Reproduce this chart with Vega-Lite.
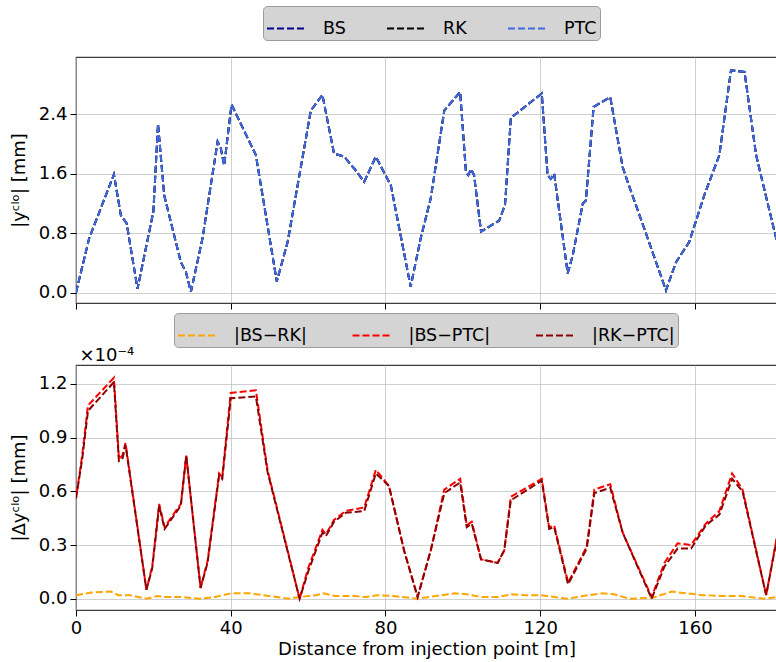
{
  "$schema": "https://vega.github.io/schema/vega-lite/v6.json",
  "padding": {"left": 9, "top": 4, "right": 0, "bottom": 0},
  "background": "white",
  "config": {
    "font": "DejaVu Sans",
    "view": {"stroke": "#3c3c3c", "strokeWidth": 1.2},
    "axis": {
      "labelFontSize": 18, "titleFontSize": 18, "titleFontWeight": "normal",
      "labelColor": "#000000", "titleColor": "#000000", "tickColor": "#000000",
      "tickSize": 6, "tickWidth": 1, "domain": false, "labelPadding": 3, "titlePadding": 10,
      "gridColor": "#b0b0b0", "gridOpacity": 0.6, "gridWidth": 1, "labelFlush": false
    },
    "legend": {
      "orient": "none", "direction": "horizontal", "columns": 3,
      "symbolType": "stroke", "symbolSize": 1369, "symbolStrokeWidth": 2, "symbolDash": [7, 3],
      "labelFontSize": 17.5, "labelOffset": 18, "columnPadding": 40, "padding": 3,
      "fillColor": "#d4d4d4", "strokeColor": "#9c9c9c", "cornerRadius": 4,
      "labelColor": "#000000", "title": null
    }
  },
  "datasets": {
    "top": [
      {"s": 0, "BS": 0.0, "RK": 0.0, "PTC": 0.0},
      {"s": 3.4, "BS": 0.73, "RK": 0.73, "PTC": 0.73},
      {"s": 9.8, "BS": 1.59, "RK": 1.59, "PTC": 1.59},
      {"s": 11.6, "BS": 1.04, "RK": 1.04, "PTC": 1.04},
      {"s": 13.1, "BS": 0.93, "RK": 0.93, "PTC": 0.93},
      {"s": 15.9, "BS": 0.05, "RK": 0.05, "PTC": 0.05},
      {"s": 20.0, "BS": 1.09, "RK": 1.09, "PTC": 1.09},
      {"s": 21.2, "BS": 2.27, "RK": 2.27, "PTC": 2.27},
      {"s": 22.8, "BS": 1.31, "RK": 1.31, "PTC": 1.31},
      {"s": 27.1, "BS": 0.41, "RK": 0.41, "PTC": 0.41},
      {"s": 28.4, "BS": 0.28, "RK": 0.28, "PTC": 0.28},
      {"s": 29.7, "BS": 0.01, "RK": 0.01, "PTC": 0.01},
      {"s": 32.7, "BS": 0.73, "RK": 0.73, "PTC": 0.73},
      {"s": 36.6, "BS": 2.03, "RK": 2.03, "PTC": 2.03},
      {"s": 37.4, "BS": 1.95, "RK": 1.95, "PTC": 1.95},
      {"s": 38.3, "BS": 1.71, "RK": 1.71, "PTC": 1.71},
      {"s": 40.2, "BS": 2.53, "RK": 2.53, "PTC": 2.53},
      {"s": 46.5, "BS": 1.85, "RK": 1.85, "PTC": 1.85},
      {"s": 51.9, "BS": 0.15, "RK": 0.15, "PTC": 0.15},
      {"s": 54.7, "BS": 0.68, "RK": 0.68, "PTC": 0.68},
      {"s": 60.7, "BS": 2.45, "RK": 2.45, "PTC": 2.45},
      {"s": 63.7, "BS": 2.66, "RK": 2.66, "PTC": 2.66},
      {"s": 66.7, "BS": 1.87, "RK": 1.87, "PTC": 1.87},
      {"s": 69.3, "BS": 1.83, "RK": 1.83, "PTC": 1.83},
      {"s": 71.9, "BS": 1.67, "RK": 1.67, "PTC": 1.67},
      {"s": 74.5, "BS": 1.49, "RK": 1.49, "PTC": 1.49},
      {"s": 77.5, "BS": 1.83, "RK": 1.83, "PTC": 1.83},
      {"s": 81.4, "BS": 1.44, "RK": 1.44, "PTC": 1.44},
      {"s": 86.5, "BS": 0.08, "RK": 0.08, "PTC": 0.08},
      {"s": 89.1, "BS": 0.73, "RK": 0.73, "PTC": 0.73},
      {"s": 91.7, "BS": 1.27, "RK": 1.27, "PTC": 1.27},
      {"s": 95.2, "BS": 2.45, "RK": 2.45, "PTC": 2.45},
      {"s": 99.3, "BS": 2.7, "RK": 2.7, "PTC": 2.7},
      {"s": 100.8, "BS": 1.62, "RK": 1.62, "PTC": 1.62},
      {"s": 101.4, "BS": 1.58, "RK": 1.58, "PTC": 1.58},
      {"s": 102.1, "BS": 1.66, "RK": 1.66, "PTC": 1.66},
      {"s": 102.9, "BS": 1.58, "RK": 1.58, "PTC": 1.58},
      {"s": 104.7, "BS": 0.82, "RK": 0.82, "PTC": 0.82},
      {"s": 109.4, "BS": 0.97, "RK": 0.97, "PTC": 0.97},
      {"s": 110.9, "BS": 1.18, "RK": 1.18, "PTC": 1.18},
      {"s": 112.4, "BS": 2.35, "RK": 2.35, "PTC": 2.35},
      {"s": 120.4, "BS": 2.68, "RK": 2.68, "PTC": 2.68},
      {"s": 121.9, "BS": 1.58, "RK": 1.58, "PTC": 1.58},
      {"s": 122.7, "BS": 1.53, "RK": 1.53, "PTC": 1.53},
      {"s": 123.6, "BS": 1.6, "RK": 1.6, "PTC": 1.6},
      {"s": 127.1, "BS": 0.26, "RK": 0.26, "PTC": 0.26},
      {"s": 128.4, "BS": 0.5, "RK": 0.5, "PTC": 0.5},
      {"s": 131.0, "BS": 1.2, "RK": 1.2, "PTC": 1.2},
      {"s": 131.8, "BS": 1.24, "RK": 1.24, "PTC": 1.24},
      {"s": 133.8, "BS": 2.5, "RK": 2.5, "PTC": 2.5},
      {"s": 138.1, "BS": 2.63, "RK": 2.63, "PTC": 2.63},
      {"s": 141.3, "BS": 1.69, "RK": 1.69, "PTC": 1.69},
      {"s": 142.6, "BS": 1.49, "RK": 1.49, "PTC": 1.49},
      {"s": 146.9, "BS": 0.86, "RK": 0.86, "PTC": 0.86},
      {"s": 152.5, "BS": 0.03, "RK": 0.03, "PTC": 0.03},
      {"s": 155.1, "BS": 0.41, "RK": 0.41, "PTC": 0.41},
      {"s": 158.5, "BS": 0.68, "RK": 0.68, "PTC": 0.68},
      {"s": 162.4, "BS": 1.31, "RK": 1.31, "PTC": 1.31},
      {"s": 166.3, "BS": 1.85, "RK": 1.85, "PTC": 1.85},
      {"s": 169.3, "BS": 2.99, "RK": 2.99, "PTC": 2.99},
      {"s": 172.8, "BS": 2.97, "RK": 2.97, "PTC": 2.97},
      {"s": 175.8, "BS": 1.85, "RK": 1.85, "PTC": 1.85},
      {"s": 181.3, "BS": 0.66, "RK": 0.66, "PTC": 0.66}
    ],
    "bottom": [
      {"s": 0, "v": 0.02, "series": "|BS−RK|"},
      {"s": 4, "v": 0.035, "series": "|BS−RK|"},
      {"s": 9, "v": 0.04, "series": "|BS−RK|"},
      {"s": 11, "v": 0.02, "series": "|BS−RK|"},
      {"s": 14, "v": 0.02, "series": "|BS−RK|"},
      {"s": 18.2, "v": 0.0, "series": "|BS−RK|"},
      {"s": 21, "v": 0.015, "series": "|BS−RK|"},
      {"s": 23, "v": 0.01, "series": "|BS−RK|"},
      {"s": 27, "v": 0.01, "series": "|BS−RK|"},
      {"s": 32, "v": 0.0, "series": "|BS−RK|"},
      {"s": 36, "v": 0.01, "series": "|BS−RK|"},
      {"s": 40, "v": 0.03, "series": "|BS−RK|"},
      {"s": 45, "v": 0.03, "series": "|BS−RK|"},
      {"s": 50, "v": 0.015, "series": "|BS−RK|"},
      {"s": 55, "v": 0.0, "series": "|BS−RK|"},
      {"s": 58, "v": 0.01, "series": "|BS−RK|"},
      {"s": 62, "v": 0.02, "series": "|BS−RK|"},
      {"s": 64, "v": 0.03, "series": "|BS−RK|"},
      {"s": 67, "v": 0.015, "series": "|BS−RK|"},
      {"s": 72, "v": 0.015, "series": "|BS−RK|"},
      {"s": 75, "v": 0.01, "series": "|BS−RK|"},
      {"s": 78, "v": 0.02, "series": "|BS−RK|"},
      {"s": 82, "v": 0.015, "series": "|BS−RK|"},
      {"s": 88.3, "v": 0.0, "series": "|BS−RK|"},
      {"s": 93, "v": 0.015, "series": "|BS−RK|"},
      {"s": 98, "v": 0.03, "series": "|BS−RK|"},
      {"s": 101, "v": 0.025, "series": "|BS−RK|"},
      {"s": 104.7, "v": 0.01, "series": "|BS−RK|"},
      {"s": 109, "v": 0.01, "series": "|BS−RK|"},
      {"s": 113, "v": 0.025, "series": "|BS−RK|"},
      {"s": 116, "v": 0.02, "series": "|BS−RK|"},
      {"s": 120, "v": 0.02, "series": "|BS−RK|"},
      {"s": 127, "v": 0.0, "series": "|BS−RK|"},
      {"s": 131, "v": 0.015, "series": "|BS−RK|"},
      {"s": 136, "v": 0.03, "series": "|BS−RK|"},
      {"s": 139, "v": 0.025, "series": "|BS−RK|"},
      {"s": 143, "v": 0.0, "series": "|BS−RK|"},
      {"s": 149, "v": 0.005, "series": "|BS−RK|"},
      {"s": 154, "v": 0.04, "series": "|BS−RK|"},
      {"s": 158, "v": 0.03, "series": "|BS−RK|"},
      {"s": 162, "v": 0.02, "series": "|BS−RK|"},
      {"s": 168, "v": 0.015, "series": "|BS−RK|"},
      {"s": 172, "v": 0.015, "series": "|BS−RK|"},
      {"s": 178, "v": 0.0, "series": "|BS−RK|"},
      {"s": 181.3, "v": 0.01, "series": "|BS−RK|"},

      {"s": 0, "v": 0.56, "series": "|BS−PTC|"},
      {"s": 1.6, "v": 0.8, "series": "|BS−PTC|"},
      {"s": 3.1, "v": 1.08, "series": "|BS−PTC|"},
      {"s": 9.8, "v": 1.235, "series": "|BS−PTC|"},
      {"s": 11.1, "v": 0.78, "series": "|BS−PTC|"},
      {"s": 12.0, "v": 0.8, "series": "|BS−PTC|"},
      {"s": 12.8, "v": 0.87, "series": "|BS−PTC|"},
      {"s": 18.2, "v": 0.05, "series": "|BS−PTC|"},
      {"s": 19.7, "v": 0.18, "series": "|BS−PTC|"},
      {"s": 21.5, "v": 0.53, "series": "|BS−PTC|"},
      {"s": 22.9, "v": 0.4, "series": "|BS−PTC|"},
      {"s": 27.1, "v": 0.53, "series": "|BS−PTC|"},
      {"s": 28.5, "v": 0.8, "series": "|BS−PTC|"},
      {"s": 32.2, "v": 0.06, "series": "|BS−PTC|"},
      {"s": 34.0, "v": 0.21, "series": "|BS−PTC|"},
      {"s": 37.0, "v": 0.7, "series": "|BS−PTC|"},
      {"s": 37.8, "v": 0.68, "series": "|BS−PTC|"},
      {"s": 40.0, "v": 1.15, "series": "|BS−PTC|"},
      {"s": 46.5, "v": 1.165, "series": "|BS−PTC|"},
      {"s": 49.5, "v": 0.72, "series": "|BS−PTC|"},
      {"s": 57.8, "v": 0.0, "series": "|BS−PTC|"},
      {"s": 60.0, "v": 0.17, "series": "|BS−PTC|"},
      {"s": 63.7, "v": 0.385, "series": "|BS−PTC|"},
      {"s": 64.6, "v": 0.36, "series": "|BS−PTC|"},
      {"s": 66.7, "v": 0.44, "series": "|BS−PTC|"},
      {"s": 69.7, "v": 0.49, "series": "|BS−PTC|"},
      {"s": 74.5, "v": 0.51, "series": "|BS−PTC|"},
      {"s": 77.5, "v": 0.72, "series": "|BS−PTC|"},
      {"s": 80.9, "v": 0.63, "series": "|BS−PTC|"},
      {"s": 84.8, "v": 0.27, "series": "|BS−PTC|"},
      {"s": 88.3, "v": 0.01, "series": "|BS−PTC|"},
      {"s": 91.7, "v": 0.27, "series": "|BS−PTC|"},
      {"s": 95.2, "v": 0.61, "series": "|BS−PTC|"},
      {"s": 99.3, "v": 0.67, "series": "|BS−PTC|"},
      {"s": 101.0, "v": 0.41, "series": "|BS−PTC|"},
      {"s": 102.3, "v": 0.43, "series": "|BS−PTC|"},
      {"s": 104.7, "v": 0.22, "series": "|BS−PTC|"},
      {"s": 109.0, "v": 0.2, "series": "|BS−PTC|"},
      {"s": 110.7, "v": 0.27, "series": "|BS−PTC|"},
      {"s": 112.4, "v": 0.57, "series": "|BS−PTC|"},
      {"s": 120.4, "v": 0.67, "series": "|BS−PTC|"},
      {"s": 122.3, "v": 0.4, "series": "|BS−PTC|"},
      {"s": 123.6, "v": 0.41, "series": "|BS−PTC|"},
      {"s": 127.2, "v": 0.09, "series": "|BS−PTC|"},
      {"s": 132.0, "v": 0.29, "series": "|BS−PTC|"},
      {"s": 134.0, "v": 0.61, "series": "|BS−PTC|"},
      {"s": 138.1, "v": 0.64, "series": "|BS−PTC|"},
      {"s": 141.3, "v": 0.37, "series": "|BS−PTC|"},
      {"s": 148.8, "v": 0.01, "series": "|BS−PTC|"},
      {"s": 152.1, "v": 0.2, "series": "|BS−PTC|"},
      {"s": 155.5, "v": 0.31, "series": "|BS−PTC|"},
      {"s": 159.0, "v": 0.3, "series": "|BS−PTC|"},
      {"s": 162.8, "v": 0.42, "series": "|BS−PTC|"},
      {"s": 166.3, "v": 0.49, "series": "|BS−PTC|"},
      {"s": 169.6, "v": 0.7, "series": "|BS−PTC|"},
      {"s": 172.3, "v": 0.61, "series": "|BS−PTC|"},
      {"s": 178.4, "v": 0.02, "series": "|BS−PTC|"},
      {"s": 181.3, "v": 0.36, "series": "|BS−PTC|"},

      {"s": 0, "v": 0.56, "series": "|RK−PTC|"},
      {"s": 1.6, "v": 0.78, "series": "|RK−PTC|"},
      {"s": 3.1, "v": 1.05, "series": "|RK−PTC|"},
      {"s": 9.8, "v": 1.21, "series": "|RK−PTC|"},
      {"s": 11.1, "v": 0.77, "series": "|RK−PTC|"},
      {"s": 12.0, "v": 0.78, "series": "|RK−PTC|"},
      {"s": 12.8, "v": 0.86, "series": "|RK−PTC|"},
      {"s": 18.2, "v": 0.05, "series": "|RK−PTC|"},
      {"s": 19.7, "v": 0.17, "series": "|RK−PTC|"},
      {"s": 21.5, "v": 0.52, "series": "|RK−PTC|"},
      {"s": 22.9, "v": 0.39, "series": "|RK−PTC|"},
      {"s": 27.1, "v": 0.52, "series": "|RK−PTC|"},
      {"s": 28.5, "v": 0.8, "series": "|RK−PTC|"},
      {"s": 32.2, "v": 0.06, "series": "|RK−PTC|"},
      {"s": 34.0, "v": 0.2, "series": "|RK−PTC|"},
      {"s": 37.0, "v": 0.69, "series": "|RK−PTC|"},
      {"s": 37.8, "v": 0.67, "series": "|RK−PTC|"},
      {"s": 40.0, "v": 1.12, "series": "|RK−PTC|"},
      {"s": 46.5, "v": 1.13, "series": "|RK−PTC|"},
      {"s": 49.5, "v": 0.71, "series": "|RK−PTC|"},
      {"s": 57.8, "v": 0.0, "series": "|RK−PTC|"},
      {"s": 60.0, "v": 0.15, "series": "|RK−PTC|"},
      {"s": 63.7, "v": 0.37, "series": "|RK−PTC|"},
      {"s": 64.6, "v": 0.35, "series": "|RK−PTC|"},
      {"s": 66.7, "v": 0.43, "series": "|RK−PTC|"},
      {"s": 69.7, "v": 0.48, "series": "|RK−PTC|"},
      {"s": 74.5, "v": 0.49, "series": "|RK−PTC|"},
      {"s": 77.5, "v": 0.7, "series": "|RK−PTC|"},
      {"s": 80.9, "v": 0.63, "series": "|RK−PTC|"},
      {"s": 84.8, "v": 0.27, "series": "|RK−PTC|"},
      {"s": 88.3, "v": 0.01, "series": "|RK−PTC|"},
      {"s": 91.7, "v": 0.27, "series": "|RK−PTC|"},
      {"s": 95.2, "v": 0.59, "series": "|RK−PTC|"},
      {"s": 99.3, "v": 0.65, "series": "|RK−PTC|"},
      {"s": 101.0, "v": 0.4, "series": "|RK−PTC|"},
      {"s": 102.3, "v": 0.42, "series": "|RK−PTC|"},
      {"s": 104.7, "v": 0.22, "series": "|RK−PTC|"},
      {"s": 109.0, "v": 0.2, "series": "|RK−PTC|"},
      {"s": 110.7, "v": 0.27, "series": "|RK−PTC|"},
      {"s": 112.4, "v": 0.55, "series": "|RK−PTC|"},
      {"s": 120.4, "v": 0.66, "series": "|RK−PTC|"},
      {"s": 122.3, "v": 0.39, "series": "|RK−PTC|"},
      {"s": 123.6, "v": 0.4, "series": "|RK−PTC|"},
      {"s": 127.2, "v": 0.08, "series": "|RK−PTC|"},
      {"s": 132.0, "v": 0.28, "series": "|RK−PTC|"},
      {"s": 134.0, "v": 0.59, "series": "|RK−PTC|"},
      {"s": 138.1, "v": 0.62, "series": "|RK−PTC|"},
      {"s": 141.3, "v": 0.37, "series": "|RK−PTC|"},
      {"s": 148.8, "v": 0.0, "series": "|RK−PTC|"},
      {"s": 152.1, "v": 0.18, "series": "|RK−PTC|"},
      {"s": 155.5, "v": 0.28, "series": "|RK−PTC|"},
      {"s": 159.0, "v": 0.28, "series": "|RK−PTC|"},
      {"s": 162.8, "v": 0.41, "series": "|RK−PTC|"},
      {"s": 166.3, "v": 0.47, "series": "|RK−PTC|"},
      {"s": 169.6, "v": 0.67, "series": "|RK−PTC|"},
      {"s": 172.3, "v": 0.6, "series": "|RK−PTC|"},
      {"s": 178.4, "v": 0.02, "series": "|RK−PTC|"},
      {"s": 181.3, "v": 0.35, "series": "|RK−PTC|"}
    ]
  },
  "resolve": {"scale": {"color": "independent"}, "legend": {"color": "independent"}},
  "bounds": "flush",
  "spacing": 62,
  "vconcat": [
    {
      "width": 701,
      "height": 246,
      "data": {"name": "top"},
      "transform": [{"fold": ["BS", "RK", "PTC"], "as": ["series", "y"]}],
      "encoding": {
        "x": {"field": "s", "type": "quantitative", "scale": {"domain": [0, 181.2], "nice": false, "zero": false},
              "axis": {"values": [0, 40, 80, 120, 160], "labels": false, "title": "×10⁻⁴",
                       "titleAnchor": "start", "titleAlign": "left", "titleBaseline": "alphabetic",
                       "titleX": 3, "titleY": 57, "titleFontSize": 18}},
        "y": {"field": "y", "type": "quantitative", "scale": {"domain": [-0.14, 3.17], "nice": false},
              "axis": {"values": [0, 0.8, 1.6, 2.4], "format": ".1f", "title": "|yᶜˡᵒ| [mm]"}},
        "color": {"field": "series", "type": "nominal",
                  "scale": {"domain": ["BS", "RK", "PTC"], "range": ["#00008b", "#000000", "#4169e1"]},
                  "legend": {"orient": "none", "legendX": 187, "legendY": -51, "direction": "horizontal", "columns": 3, "columnPadding": 37}}
      },
      "layer": [
        {"transform": [{"filter": "datum.series === 'BS'"}], "mark": {"type": "line", "strokeWidth": 2, "strokeDash": [7, 3], "clip": true}},
        {"transform": [{"filter": "datum.series === 'RK'"}], "mark": {"type": "line", "strokeWidth": 2, "strokeDash": [7, 3], "clip": true}},
        {"transform": [{"filter": "datum.series === 'PTC'"}], "mark": {"type": "line", "strokeWidth": 2, "strokeDash": [7, 3], "clip": true}}
      ]
    },
    {
      "width": 701,
      "height": 245,
      "data": {"name": "bottom"},
      "encoding": {
        "x": {"field": "s", "type": "quantitative", "scale": {"domain": [0, 181.2], "nice": false, "zero": false},
              "axis": {"values": [0, 40, 80, 120, 160], "title": "Distance from injection point [m]", "titlePadding": 3}},
        "y": {"field": "v", "type": "quantitative", "scale": {"domain": [-0.063, 1.306], "nice": false},
              "axis": {"values": [0, 0.3, 0.6, 0.9, 1.2], "format": ".1f", "title": "|Δyᶜˡᵒ| [mm]"}},
        "color": {"field": "series", "type": "nominal",
            "scale": {"domain": ["|BS−RK|", "|BS−PTC|", "|RK−PTC|"], "range": ["#ffa500", "#ff0000", "#8b0000"]},
            "legend": {"orient": "none", "legendX": 98, "legendY": -52, "direction": "horizontal", "columns": 3, "columnPadding": 41.5}}
      },
      "layer": [
        {"transform": [{"filter": "datum.series === '|BS−RK|'"}],
         "mark": {"type": "line", "strokeWidth": 2, "strokeDash": [7, 3], "clip": true}},
        {"transform": [{"filter": "datum.series === '|BS−PTC|'"}],
         "mark": {"type": "line", "strokeWidth": 2, "strokeDash": [7, 3], "strokeDashOffset": 5, "clip": true}},
        {"transform": [{"filter": "datum.series === '|RK−PTC|'"}],
         "mark": {"type": "line", "strokeWidth": 2, "strokeDash": [7, 3], "clip": true}}
      ]
    }
  ]
}
